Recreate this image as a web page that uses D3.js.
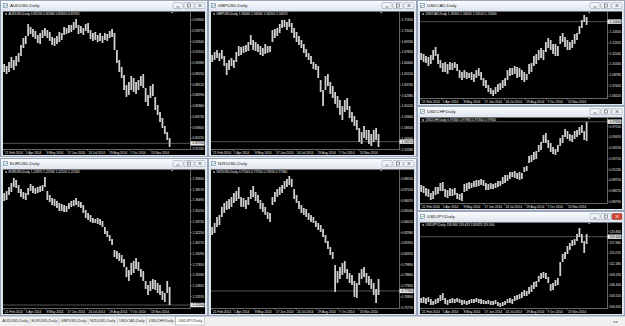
<!DOCTYPE html>
<html>
<head>
<meta charset="utf-8">
<script src="https://cdn.jsdelivr.net/npm/d3@7"></script>
<style>
body{margin:0;background:#eef1f5;}
svg{display:block;font-family:"Liberation Sans",Arial,sans-serif;}
</style>
</head>
<body>
<div id="chart"></div>
<script>
// date axis: bar index where each label sits + text
var dateIdx = [0, 8.7, 17.4, 26.1, 34.8, 43.5, 52.2, 60.9];
var dateLabels = ["21 Feb 2014","1 Apr 2014","8 May 2014","17 Jun 2014","24 Jul 2014","29 Aug 2014","7 Oct 2014","13 Nov 2014"];

// AUDUSD
var audHigh = [0.9028,0.9007,0.9049,0.9102,0.9070,0.9112,0.9144,0.9228,0.9301,0.9322,
0.9448,0.9417,0.9396,0.9375,0.9333,0.9354,0.9385,0.9406,0.9385,0.9364,
0.9312,0.9301,0.9322,0.9364,0.9354,0.9417,0.9406,0.9438,0.9438,0.9469,
0.9501,0.9438,0.9427,0.9406,0.9448,0.9459,0.9385,0.9354,0.9364,0.9333,
0.9354,0.9322,0.9354,0.9343,0.9375,0.9396,0.9354,0.9175,0.9070,0.8997,
0.8913,0.8808,0.8839,0.8902,0.8881,0.8839,0.8860,0.8902,0.8923,0.8776,
0.8703,0.8797,0.8818,0.8682,0.8598,0.8524,0.8461,0.8377,0.8314,0.8251];
var audLow = [0.8944,0.8923,0.8944,0.8986,0.8965,0.9007,0.9049,0.9112,0.9196,0.9238,
0.9322,0.9343,0.9312,0.9291,0.9249,0.9238,0.9301,0.9322,0.9301,0.9270,
0.9228,0.9217,0.9238,0.9259,0.9280,0.9333,0.9343,0.9354,0.9364,0.9385,
0.9406,0.9343,0.9354,0.9333,0.9375,0.9354,0.9291,0.9270,0.9280,0.9259,
0.9270,0.9249,0.9280,0.9270,0.9301,0.9312,0.9175,0.9039,0.8944,0.8881,
0.8755,0.8682,0.8703,0.8755,0.8734,0.8713,0.8755,0.8797,0.8776,0.8629,
0.8587,0.8671,0.8692,0.8545,0.8493,0.8419,0.8356,0.8293,0.8230,0.8157];
var audTicks = [0.94900,0.93770,0.92640,0.91510,0.90380,0.89250,0.88120,0.86990,0.85860,0.84730,0.83600,0.82470,0.81340];
var audDomain = [0.81355, 0.95793];
var audBid = 0.81950;
var audLegend = "AUDUSD,Daily  0.82130 0.82360 0.81690 0.81950";

// GBPUSD
var gbpHigh = [1.6749,1.6787,1.6812,1.6774,1.6812,1.6736,1.6648,1.6686,1.6711,1.6686,
1.6787,1.6862,1.6850,1.6862,1.6875,1.6913,1.7001,1.6938,1.6913,1.6888,
1.6862,1.6837,1.6888,1.6862,1.6862,1.7064,1.7077,1.7089,1.7140,1.7190,
1.7190,1.7165,1.7203,1.7152,1.7089,1.7039,1.6988,1.6938,1.6888,1.6825,
1.6774,1.6736,1.6661,1.6636,1.6610,1.6434,1.6308,1.6484,1.6510,1.6409,
1.6358,1.6283,1.6232,1.6182,1.6106,1.6182,1.6207,1.6106,1.6031,1.5980,
1.5930,1.5829,1.5779,1.5854,1.5804,1.5804,1.5754,1.5804,1.5829,1.5754];
var gbpLow = [1.6661,1.6686,1.6711,1.6673,1.6699,1.6610,1.6497,1.6560,1.6610,1.6585,
1.6661,1.6736,1.6749,1.6774,1.6787,1.6799,1.6875,1.6812,1.6799,1.6787,
1.6749,1.6736,1.6762,1.6774,1.6787,1.6913,1.6963,1.6988,1.7026,1.7089,
1.7102,1.7064,1.7102,1.7026,1.6963,1.6913,1.6875,1.6837,1.6774,1.6724,
1.6686,1.6636,1.6573,1.6560,1.6459,1.6283,1.6106,1.6308,1.6358,1.6258,
1.6207,1.6132,1.6081,1.5993,1.5930,1.6031,1.6056,1.5955,1.5905,1.5854,
1.5804,1.5653,1.5628,1.5703,1.5678,1.5628,1.5602,1.5653,1.5678,1.5590];
var gbpTicks = [1.71900,1.70540,1.69180,1.67820,1.66460,1.65100,1.63740,1.62380,1.61020,1.59660,1.58300,1.56940,1.55580];
var gbpDomain = [1.55646, 1.72971];
var gbpBid = 1.56570;
var gbpLegend = "GBPUSD,Daily  1.56440 1.56940 1.56200 1.56570";

// USDCAD
var cadHigh = [1.1160,1.1147,1.1121,1.1108,1.1134,1.1199,1.1237,1.1147,1.1069,1.1031,
1.1043,1.1018,1.1043,1.1031,1.1043,1.1018,1.0940,1.0915,1.0940,1.0915,
1.0902,1.0915,1.0889,1.0940,1.0966,1.0915,1.0837,1.0811,1.0747,1.0708,
1.0682,1.0721,1.0760,1.0773,1.0811,1.0837,1.0940,1.0966,1.0966,1.0992,
1.0979,1.0966,1.0940,1.0915,1.0889,1.1018,1.1031,1.1121,1.1147,1.1199,
1.1224,1.1199,1.1302,1.1353,1.1328,1.1276,1.1276,1.1250,1.1379,1.1418,
1.1366,1.1328,1.1302,1.1328,1.1405,1.1418,1.1508,1.1586,1.1650,1.1624];
var cadLow = [1.1069,1.1043,1.1031,1.0992,1.1018,1.1069,1.1121,1.1018,1.0966,1.0915,
1.0915,1.0889,1.0940,1.0940,1.0966,1.0927,1.0837,1.0811,1.0837,1.0824,
1.0837,1.0811,1.0786,1.0837,1.0863,1.0811,1.0734,1.0708,1.0657,1.0631,
1.0605,1.0631,1.0657,1.0682,1.0708,1.0734,1.0811,1.0863,1.0876,1.0889,
1.0837,1.0850,1.0811,1.0786,1.0811,1.0889,1.0915,1.0992,1.1018,1.1069,
1.1095,1.1069,1.1173,1.1224,1.1199,1.1147,1.1121,1.1121,1.1276,1.1302,
1.1237,1.1199,1.1199,1.1224,1.1276,1.1328,1.1405,1.1482,1.1560,1.1521];
var cadTicks = [1.15680,1.14300,1.12920,1.11540,1.10160,1.08780,1.07400,1.06020];
var cadDomain = [1.05793, 1.16952];
var cadBid = 1.15640;
var cadLegend = "USDCAD,Daily  1.16310 1.16610 1.15510 1.15640";

// USDCHF
var chfHigh = [0.8908,0.8894,0.8866,0.8852,0.8797,0.8824,0.8880,0.8880,0.8935,0.8949,
0.8852,0.8838,0.8866,0.8852,0.8866,0.8797,0.8783,0.8797,0.8921,0.8935,
0.8949,0.8935,0.8963,0.8977,0.8977,0.8991,0.8977,0.8935,0.8921,0.8935,
0.8921,0.8935,0.8963,0.8963,0.9018,0.9046,0.9046,0.9088,0.9088,0.9101,
0.9074,0.9088,0.9074,0.9157,0.9171,0.9309,0.9323,0.9365,0.9378,0.9462,
0.9503,0.9600,0.9628,0.9531,0.9489,0.9434,0.9406,0.9462,0.9558,0.9600,
0.9683,0.9655,0.9614,0.9600,0.9655,0.9669,0.9711,0.9738,0.9655,0.9780];
var chfLow = [0.8811,0.8797,0.8755,0.8741,0.8700,0.8714,0.8769,0.8783,0.8824,0.8824,
0.8741,0.8727,0.8755,0.8755,0.8769,0.8714,0.8700,0.8686,0.8811,0.8824,
0.8852,0.8866,0.8880,0.8880,0.8894,0.8908,0.8894,0.8838,0.8838,0.8852,
0.8852,0.8866,0.8880,0.8894,0.8921,0.8935,0.8963,0.8991,0.9018,0.9005,
0.8991,0.8977,0.8991,0.9088,0.9101,0.9212,0.9226,0.9254,0.9268,0.9365,
0.9392,0.9489,0.9489,0.9420,0.9365,0.9337,0.9323,0.9365,0.9448,0.9489,
0.9572,0.9545,0.9517,0.9503,0.9545,0.9572,0.9600,0.9628,0.9531,0.9517];
var chfTicks = [0.97150,0.95670,0.94190,0.92710,0.91230,0.89750,0.88270,0.86790];
var chfDomain = [0.86582, 0.98424];
var chfBid = 0.97840;
var chfLegend = "USDCHF,Daily  0.97460 0.97880 0.97300 0.97840";

// USDJPY
var jpyHigh = [102.95,103.22,102.95,103.22,102.68,102.14,102.68,102.95,103.76,104.30,
102.95,102.41,102.68,102.95,102.68,102.95,102.68,102.41,102.41,102.14,
102.41,102.68,102.68,102.95,102.68,102.68,102.41,102.14,102.41,102.14,
102.14,102.41,101.87,101.60,101.87,102.14,102.68,102.95,102.68,103.49,
103.76,104.03,104.57,105.11,104.84,105.92,106.46,107.27,107.54,108.89,
109.70,109.97,109.70,108.62,106.73,107.00,107.81,108.35,112.67,114.83,
115.37,116.99,117.80,118.61,118.88,120.23,121.85,120.23,118.34,120.23];
var jpyLow = [101.60,101.60,101.33,101.87,101.06,101.06,101.33,101.60,102.14,102.41,
101.33,101.06,101.60,101.60,101.60,101.87,101.60,101.06,101.33,101.06,
101.33,101.60,101.60,101.87,101.60,101.33,101.33,101.33,101.33,101.06,
101.06,101.33,100.79,100.52,100.79,101.06,101.60,101.60,101.33,102.14,
102.41,102.68,102.95,103.49,103.49,104.03,104.57,105.38,105.92,107.27,
108.08,108.35,108.08,107.00,104.84,105.11,106.19,106.46,108.89,112.67,
113.48,114.83,115.91,116.99,117.26,118.34,119.42,117.80,115.10,117.53];
var jpyTicks = [120.850,117.960,115.070,112.180,109.290,106.400,103.510,100.620];
var jpyDomain = [100.25, 123.335];
var jpyBid = 119.500;
var jpyLegend = "USDJPY,Daily  118.844 119.613 118.823 119.500";

// EURUSD
var eurHigh = [1.3771,1.3799,1.3855,1.3910,1.3979,1.3951,1.3882,1.3827,1.3785,1.3771,
1.3841,1.3896,1.3868,1.3841,1.3855,1.3868,1.3882,1.3993,1.3799,1.3744,
1.3702,1.3688,1.3661,1.3633,1.3619,1.3605,1.3591,1.3633,1.3661,1.3674,
1.3702,1.3661,1.3647,1.3605,1.3536,1.3494,1.3467,1.3425,1.3411,1.3425,
1.3411,1.3384,1.3301,1.3245,1.3190,1.3134,1.2982,1.2968,1.2940,1.2913,
1.2857,1.2747,1.2705,1.2802,1.2830,1.2871,1.2816,1.2719,1.2691,1.2553,
1.2497,1.2553,1.2580,1.2566,1.2525,1.2497,1.2414,1.2386,1.2553,1.2470];
var eurLow = [1.3661,1.3674,1.3744,1.3785,1.3855,1.3841,1.3771,1.3716,1.3688,1.3674,
1.3744,1.3799,1.3771,1.3758,1.3771,1.3785,1.3799,1.3855,1.3674,1.3647,
1.3605,1.3591,1.3564,1.3522,1.3522,1.3508,1.3508,1.3550,1.3578,1.3591,
1.3605,1.3578,1.3564,1.3494,1.3425,1.3398,1.3370,1.3356,1.3356,1.3342,
1.3328,1.3301,1.3204,1.3162,1.3107,1.3051,1.2885,1.2857,1.2830,1.2802,
1.2747,1.2608,1.2553,1.2636,1.2663,1.2719,1.2691,1.2608,1.2553,1.2442,
1.2359,1.2414,1.2442,1.2428,1.2386,1.2359,1.2290,1.2262,1.2386,1.2220];
var eurTicks = [1.39650,1.38170,1.36690,1.35210,1.33730,1.32250,1.30770,1.29290,1.27810,1.26330,1.24850,1.23370];
var eurDomain = [1.21786, 1.40969];
var eurBid = 1.22200;
var eurLegend = "EURUSD,Daily  1.22870 1.22930 1.22100 1.22200";

// NZDUSD
var nzdHigh = [0.8351,0.8390,0.8447,0.8467,0.8544,0.8582,0.8601,0.8621,0.8640,0.8678,
0.8698,0.8736,0.8640,0.8630,0.8611,0.8640,0.8707,0.8746,0.8688,0.8659,
0.8611,0.8582,0.8544,0.8495,0.8486,0.8640,0.8688,0.8717,0.8736,0.8755,
0.8794,0.8813,0.8842,0.8813,0.8717,0.8659,0.8601,0.8563,0.8534,0.8524,
0.8486,0.8467,0.8447,0.8409,0.8390,0.8370,0.8332,0.8274,0.8217,0.8159,
0.8111,0.7986,0.7928,0.7966,0.8005,0.8024,0.7947,0.7909,0.7889,0.7832,
0.7812,0.7909,0.7947,0.7966,0.7909,0.7880,0.7851,0.7812,0.7755,0.7851];
var nzdLow = [0.8274,0.8293,0.8351,0.8370,0.8447,0.8486,0.8515,0.8524,0.8544,0.8582,
0.8601,0.8621,0.8544,0.8544,0.8524,0.8563,0.8621,0.8640,0.8601,0.8582,
0.8524,0.8495,0.8467,0.8428,0.8399,0.8563,0.8592,0.8640,0.8659,0.8678,
0.8717,0.8736,0.8755,0.8736,0.8621,0.8582,0.8524,0.8486,0.8467,0.8447,
0.8419,0.8399,0.8390,0.8351,0.8322,0.8303,0.8255,0.8197,0.8140,0.8082,
0.8043,0.7726,0.7812,0.7851,0.7889,0.7909,0.7851,0.7812,0.7793,0.7678,
0.7668,0.7793,0.7851,0.7870,0.7812,0.7793,0.7755,0.7697,0.7620,0.7697];
var nzdTicks = [0.88130,0.87100,0.86070,0.85040,0.84010,0.82980,0.81950,0.80920,0.79890,0.78860,0.77830,0.76800,0.75770];
var nzdDomain = [0.75719, 0.89043];
var nzdBid = 0.77360;
var nzdLegend = "NZDUSD,Daily  0.77040 0.77550 0.76910 0.77360";

var tabNames = ["AUDUSD,Daily","EURUSD,Daily","GBPUSD,Daily","NZDUSD,Daily","USDCAD,Daily","USDCHF,Daily","USDJPY,Daily"];

var W = 625, H = 326;
var slots = 78; // bar slots across the chart (last bars + right shift)

var svg = d3.select("#chart").append("svg")
    .attr("width", W)
    .attr("height", H);

var defs = svg.append("defs");
var grad = defs.append("linearGradient").attr("id", "titleGrad")
    .attr("x1", 0).attr("y1", 0).attr("x2", 0).attr("y2", 1);
grad.append("stop").attr("offset", "0%").attr("stop-color", "#fbfcfe");
grad.append("stop").attr("offset", "100%").attr("stop-color", "#dfe6ef");

var windows = [
    {sym: "AUDUSD", x: 0,   y: 0,   w: 208, h: 157, hi: audHigh, lo: audLow, ticks: audTicks, domain: audDomain, bid: audBid, legend: audLegend, fmt: ".5f"},
    {sym: "GBPUSD", x: 208, y: 0,   w: 209, h: 157, hi: gbpHigh, lo: gbpLow, ticks: gbpTicks, domain: gbpDomain, bid: gbpBid, legend: gbpLegend, fmt: ".5f"},
    {sym: "USDCAD", x: 417, y: 0,   w: 208, h: 106, hi: cadHigh, lo: cadLow, ticks: cadTicks, domain: cadDomain, bid: cadBid, legend: cadLegend, fmt: ".5f"},
    {sym: "USDCHF", x: 417, y: 106, w: 208, h: 105, hi: chfHigh, lo: chfLow, ticks: chfTicks, domain: chfDomain, bid: chfBid, legend: chfLegend, fmt: ".5f"},
    {sym: "USDJPY", x: 417, y: 211, w: 208, h: 105, hi: jpyHigh, lo: jpyLow, ticks: jpyTicks, domain: jpyDomain, bid: jpyBid, legend: jpyLegend, fmt: ".3f", active: true},
    {sym: "EURUSD", x: 0,   y: 158, w: 208, h: 158, hi: eurHigh, lo: eurLow, ticks: eurTicks, domain: eurDomain, bid: eurBid, legend: eurLegend, fmt: ".5f"},
    {sym: "NZDUSD", x: 208, y: 158, w: 209, h: 158, hi: nzdHigh, lo: nzdLow, ticks: nzdTicks, domain: nzdDomain, bid: nzdBid, legend: nzdLegend, fmt: ".5f"}
];

windows.forEach(drawWindow);
drawTabs();

function drawWindow(c){
    var g = svg.append("g").attr("transform", "translate(" + c.x + "," + c.y + ")");
    var left = 3, top = 11.5, right = c.w - 3, bottom = c.h - 2;
    var ax = c.w - 18;          // price axis line
    var dl = bottom - 6;        // date axis line

    // frame + title bar
    g.append("rect")
        .attr("x", 0.5).attr("y", 0.5)
        .attr("width", c.w - 1).attr("height", c.h - 1)
        .attr("fill", "#dce4ee").attr("stroke", "#97a5b8");
    g.append("rect")
        .attr("x", 1).attr("y", 1)
        .attr("width", c.w - 2).attr("height", 9.5)
        .attr("fill", "url(#titleGrad)");
    // little chart icon
    g.append("rect").attr("x", 3.5).attr("y", 3.5).attr("width", 4).attr("height", 4)
        .attr("fill", "#fff").attr("stroke", "#5b7fa8").attr("stroke-width", 0.6);
    g.append("path").attr("d", "M4.3,6.8 L5.3,5.2 L6.1,6 L7,4.3")
        .attr("fill", "none").attr("stroke", "#2f8f3a").attr("stroke-width", 0.5);
    g.append("text")
        .attr("x", 10).attr("y", 7.4)
        .attr("font-size", 4.4).attr("fill", "#1a1a1a")
        .text(c.sym + ",Daily");

    // min / restore / close buttons
    var btns = [c.w - 35, c.w - 24, c.w - 13];
    btns.forEach(function(bx, k){
        var isClose = (k == 2 && c.active);
        g.append("rect")
            .attr("x", bx).attr("y", 2.5)
            .attr("width", 10).attr("height", 6).attr("rx", 1)
            .attr("fill", isClose ? "#d2473a" : "#eef2f7")
            .attr("stroke", isClose ? "#8e2a22" : "#8d99a8").attr("stroke-width", 0.5);
        var col = isClose ? "#fff" : "#333";
        if(k == 0){
            g.append("line").attr("x1", bx + 3.5).attr("x2", bx + 6.5).attr("y1", 7).attr("y2", 7)
                .attr("stroke", col).attr("stroke-width", 0.6);
        }else if(k == 1){
            g.append("rect").attr("x", bx + 3.5).attr("y", 4).attr("width", 3).attr("height", 3)
                .attr("fill", "none").attr("stroke", col).attr("stroke-width", 0.5);
        }else{
            g.append("path").attr("d", "M" + (bx + 3.5) + ",4 L" + (bx + 6.5) + ",7 M" + (bx + 6.5) + ",4 L" + (bx + 3.5) + ",7")
                .attr("stroke", col).attr("stroke-width", 0.6);
        }
    });

    // black chart area
    g.append("rect")
        .attr("x", left).attr("y", top)
        .attr("width", right - left).attr("height", bottom - top)
        .attr("fill", "#000");

    var x = d3.scaleLinear().domain([-0.5, slots - 0.5]).range([left, ax]);
    var y = d3.scaleLinear().domain(c.domain).range([dl, top]);
    var fmt = d3.format(c.fmt);

    // axes lines
    g.append("line").attr("x1", ax + 0.5).attr("x2", ax + 0.5).attr("y1", top).attr("y2", dl + 0.5)
        .attr("stroke", "#a8a8a8").attr("stroke-width", 0.6);
    g.append("line").attr("x1", left).attr("x2", ax + 0.5).attr("y1", dl + 0.5).attr("y2", dl + 0.5)
        .attr("stroke", "#a8a8a8").attr("stroke-width", 0.6);

    // price labels
    var pt = g.append("g");
    pt.selectAll("line").data(c.ticks).enter().append("line")
        .attr("x1", ax + 0.5).attr("x2", ax + 2)
        .attr("y1", function(d){ return y(d); }).attr("y2", function(d){ return y(d); })
        .attr("stroke", "#a8a8a8").attr("stroke-width", 0.5);
    pt.selectAll("text").data(c.ticks).enter().append("text")
        .attr("x", ax + 2.5)
        .attr("y", function(d){ return y(d) + 1.1; })
        .attr("font-size", 3.2).attr("fill", "#e8e8e8")
        .text(function(d){ return fmt(d); });

    // date labels
    var dt = g.append("g");
    dt.selectAll("line").data(dateIdx).enter().append("line")
        .attr("x1", function(d){ return x(d); }).attr("x2", function(d){ return x(d); })
        .attr("y1", dl + 0.5).attr("y2", dl + 2.2)
        .attr("stroke", "#a8a8a8").attr("stroke-width", 0.5);
    dt.selectAll("text").data(dateIdx).enter().append("text")
        .attr("x", function(d){ return x(d) + 0.8; })
        .attr("y", dl + 4.6)
        .attr("font-size", 3.2).attr("fill", "#e8e8e8")
        .text(function(d, i){ return dateLabels[i]; });

    // bid line
    g.append("line")
        .attr("x1", left).attr("x2", ax)
        .attr("y1", y(c.bid)).attr("y2", y(c.bid))
        .attr("stroke", "#8a8a8a").attr("stroke-width", 0.6);

    // high-low bars
    g.append("g").selectAll("line")
        .data(c.hi)
        .enter()
        .append("line")
        .attr("x1", function(d, i){ return x(i); })
        .attr("x2", function(d, i){ return x(i); })
        .attr("y1", function(d){ return y(d); })
        .attr("y2", function(d, i){ return y(c.lo[i]); })
        .attr("stroke", "#cfcfcf")
        .attr("stroke-width", 1.8);

    // bid box on the price axis
    g.append("rect")
        .attr("x", ax + 0.5).attr("y", y(c.bid) - 2.2)
        .attr("width", 14).attr("height", 4.4)
        .attr("fill", "#e6e6e6");
    g.append("text")
        .attr("x", ax + 2.5).attr("y", y(c.bid) + 1.1)
        .attr("font-size", 3.2).attr("fill", "#000")
        .text(fmt(c.bid));

    // legend
    g.append("path").attr("d", "M5,13.6 L7.2,13.6 L6.1,15.2 Z").attr("fill", "#fff");
    g.append("text")
        .attr("x", 8.5).attr("y", 15.4)
        .attr("font-size", 3.2).attr("fill", "#f0f0f0")
        .text(c.legend);

    // chart shift marker
    g.append("path")
        .attr("d", "M" + (ax - 19) + "," + (top + 0.5) + " l2.4,0 l-1.2,1.6 Z")
        .attr("fill", "#b0b0b0");
}

function drawTabs(){
    var t = svg.append("g").attr("transform", "translate(0,316)");
    t.append("rect").attr("width", W).attr("height", 10).attr("fill", "#f0f0f0");
    t.append("line").attr("x1", 0).attr("x2", W).attr("y1", 0.5).attr("y2", 0.5)
        .attr("stroke", "#b4bcc6").attr("stroke-width", 0.6);
    var tw = 29.2;
    tabNames.forEach(function(name, k){
        var tx = 0.5 + k * tw;
        var last = (k == tabNames.length - 1);
        if(last){
            t.append("rect").attr("x", tx).attr("y", 0.5).attr("width", tw - 0.5).attr("height", 8.5)
                .attr("fill", "#fff").attr("stroke", "#8e959e").attr("stroke-width", 0.5);
        }else{
            t.append("line").attr("x1", tx + tw).attr("x2", tx + tw).attr("y1", 2).attr("y2", 8)
                .attr("stroke", "#9aa3ad").attr("stroke-width", 0.5);
        }
        t.append("text")
            .attr("x", tx + tw / 2).attr("y", 6.3)
            .attr("text-anchor", "middle")
            .attr("font-size", 3.8).attr("fill", "#333")
            .text(name);
    });
    t.append("text").attr("x", 613).attr("y", 6.5).attr("font-size", 4).attr("fill", "#777").text("\u25C2 \u25B8");
}
</script>
</body>
</html>
